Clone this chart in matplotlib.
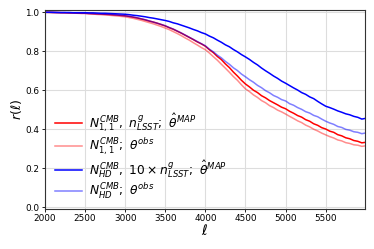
import numpy as np
import matplotlib
matplotlib.use("Agg")
import matplotlib.pyplot as plt

# multipole values (every 50)
ells = np.arange(2000, 6001, 50)

# N11 CMB noise, LSST galaxies, MAP estimate
r_n11_map = [1.000, 1.000, 0.999, 0.999, 0.998, 0.998, 0.997, 0.997, 0.996, 0.995,
             0.995, 0.994, 0.993, 0.992, 0.991, 0.990, 0.989, 0.987, 0.986, 0.984,
             0.982, 0.979, 0.975, 0.971, 0.966, 0.961, 0.955, 0.950, 0.944, 0.937,
             0.930, 0.921, 0.913, 0.903, 0.893, 0.882, 0.871, 0.860, 0.848, 0.838,
             0.826, 0.808, 0.793, 0.773, 0.757, 0.735, 0.716, 0.693, 0.673, 0.651,
             0.632, 0.617, 0.600, 0.588, 0.572, 0.561, 0.547, 0.536, 0.525, 0.513,
             0.505, 0.492, 0.482, 0.470, 0.462, 0.449, 0.441, 0.428, 0.420, 0.408,
             0.401, 0.390, 0.384, 0.372, 0.366, 0.356, 0.351, 0.342, 0.338, 0.330,
             0.333]

# N11 CMB noise, observed theta
r_n11_obs = [1.000, 0.999, 0.999, 0.998, 0.998, 0.997, 0.996, 0.996, 0.995, 0.994,
             0.994, 0.992, 0.991, 0.989, 0.988, 0.986, 0.985, 0.983, 0.981, 0.979,
             0.977, 0.973, 0.969, 0.964, 0.959, 0.953, 0.947, 0.941, 0.934, 0.927,
             0.919, 0.911, 0.901, 0.891, 0.880, 0.868, 0.857, 0.844, 0.832, 0.819,
             0.808, 0.791, 0.772, 0.754, 0.733, 0.713, 0.692, 0.670, 0.651, 0.628,
             0.607, 0.593, 0.576, 0.563, 0.547, 0.536, 0.521, 0.511, 0.498, 0.489,
             0.478, 0.466, 0.455, 0.443, 0.434, 0.421, 0.412, 0.400, 0.391, 0.380,
             0.371, 0.362, 0.355, 0.345, 0.340, 0.331, 0.327, 0.320, 0.318, 0.312,
             0.315]

# HD CMB noise, 10x LSST galaxies, MAP estimate
r_hd_map = [1.000, 1.000, 1.000, 0.999, 0.999, 0.999, 0.999, 0.998, 0.998, 0.998,
            0.998, 0.997, 0.997, 0.996, 0.995, 0.995, 0.994, 0.993, 0.992, 0.991,
            0.990, 0.988, 0.985, 0.983, 0.980, 0.977, 0.973, 0.970, 0.966, 0.962,
            0.958, 0.953, 0.946, 0.941, 0.934, 0.927, 0.920, 0.912, 0.905, 0.896,
            0.889, 0.878, 0.869, 0.857, 0.846, 0.833, 0.823, 0.809, 0.797, 0.783,
            0.771, 0.758, 0.743, 0.730, 0.714, 0.700, 0.687, 0.673, 0.661, 0.647,
            0.636, 0.624, 0.612, 0.601, 0.588, 0.579, 0.566, 0.557, 0.543, 0.530,
            0.518, 0.511, 0.503, 0.494, 0.487, 0.479, 0.474, 0.466, 0.461, 0.452,
            0.456]

# HD CMB noise, observed theta
r_hd_obs = [1.000, 1.000, 0.999, 0.999, 0.998, 0.998, 0.997, 0.997, 0.996, 0.996,
            0.995, 0.994, 0.993, 0.992, 0.991, 0.990, 0.989, 0.988, 0.986, 0.984,
            0.982, 0.979, 0.976, 0.972, 0.967, 0.962, 0.956, 0.950, 0.944, 0.938,
            0.931, 0.922, 0.914, 0.904, 0.894, 0.883, 0.872, 0.861, 0.850, 0.839,
            0.828, 0.811, 0.797, 0.780, 0.766, 0.748, 0.733, 0.715, 0.701, 0.683,
            0.669, 0.654, 0.641, 0.625, 0.613, 0.598, 0.587, 0.573, 0.564, 0.552,
            0.545, 0.531, 0.523, 0.511, 0.502, 0.490, 0.483, 0.471, 0.464, 0.452,
            0.441, 0.432, 0.425, 0.414, 0.409, 0.399, 0.395, 0.387, 0.384, 0.377,
            0.381]

labels = [r"$N_{1,1}^{CMB},\ n_{LSST}^{g};\ \hat{\theta}^{MAP}$",
          r"$N_{1,1}^{CMB};\ \theta^{obs}$",
          r"$N_{HD}^{CMB},\ 10\times n_{LSST}^{g};\ \hat{\theta}^{MAP}$",
          r"$N_{HD}^{CMB};\ \theta^{obs}$"]

fig = plt.figure(figsize=(3.74, 2.49), dpi=100)
ax = fig.add_axes([0.120, 0.161, 0.856, 0.799])

ax.plot(ells, r_n11_map, color="red", lw=1.1, label=labels[0])
ax.plot(ells, r_n11_obs, color="red", alpha=0.45, lw=1.1, label=labels[1])
ax.plot(ells, r_hd_map, color="blue", lw=1.1, label=labels[2])
ax.plot(ells, r_hd_obs, color="blue", alpha=0.5, lw=1.1, label=labels[3])

ax.set_xlim(2000, 5990)
ax.set_ylim(-0.009, 1.012)
ax.set_xticks(np.arange(2000, 5501, 500))
ax.set_yticks(np.arange(0, 1.01, 0.2))
ax.grid(True, color="#dddddd", lw=0.8)
ax.tick_params(labelsize=6.4, length=2.5, width=0.6, pad=1.5)
for s in ax.spines.values():
    s.set_color("#333333")
    s.set_linewidth(0.8)

ax.set_xlabel(r"$\ell$", fontsize=10, labelpad=0)
ax.set_ylabel(r"$r(\ell)$", fontsize=9, labelpad=1)

ax.legend(loc="center left", bbox_to_anchor=(0.005, 0.265), frameon=False,
          fontsize=8.8, handlelength=2.2, handletextpad=0.6,
          labelspacing=0.15, borderaxespad=0.3)

fig.savefig("out.png", dpi=100)
